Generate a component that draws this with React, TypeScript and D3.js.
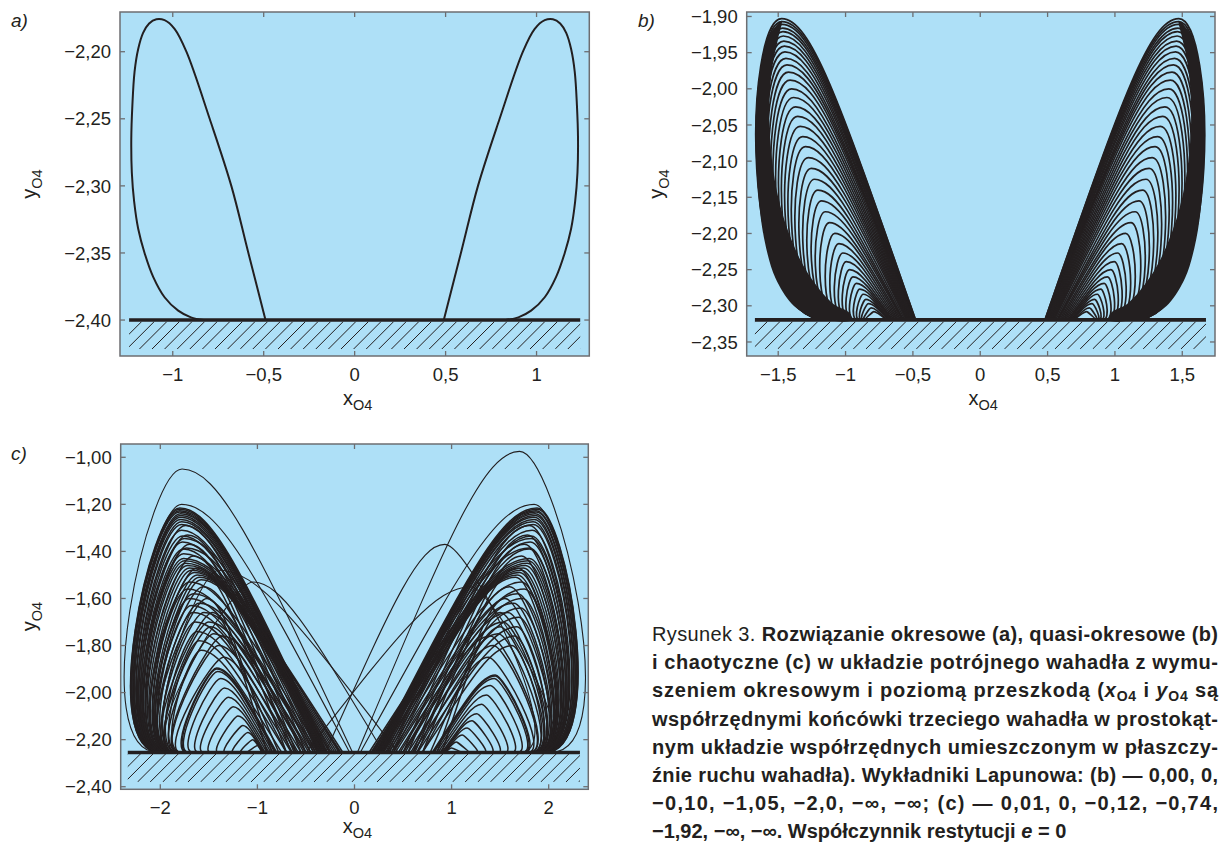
import React from 'react';
import * as d3 from 'd3';

const INK = '#231f20';
const FRAME = '#6d6e71';
const BG = '#aee0f7';
const FONT = "'Liberation Sans', Arial, Helvetica, sans-serif";

// ---------- Panel a: periodic solution ----------
const aXTicks = [-1, -0.5, 0, 0.5, 1];
const aXLabels = ['−1', '−0,5', '0', '0,5', '1'];
const aYTicks = [-2.2, -2.25, -2.3, -2.35, -2.4];
const aYLabels = ['−2,20', '−2,25', '−2,30', '−2,35', '−2,40'];
const aLoopLeft: [number, number][] = [
  [-0.49, -2.4], [-0.588, -2.348], [-0.678, -2.3], [-0.797, -2.25], [-0.925, -2.2],
  [-0.99, -2.183], [-1.045, -2.1765], [-1.09, -2.1758], [-1.13, -2.179], [-1.163, -2.186],
  [-1.19, -2.198], [-1.21, -2.215], [-1.222, -2.24], [-1.228, -2.265], [-1.225, -2.29],
  [-1.212, -2.312], [-1.19, -2.332], [-1.155, -2.35], [-1.107, -2.368], [-1.045, -2.383],
  [-0.97, -2.393], [-0.9, -2.398], [-0.83, -2.4],
];
const aLoopRight: [number, number][] = [
  [0.49, -2.4], [0.588, -2.348], [0.678, -2.3], [0.797, -2.25], [0.925, -2.2],
  [0.99, -2.183], [1.045, -2.1765], [1.09, -2.1758], [1.13, -2.179], [1.163, -2.186],
  [1.19, -2.198], [1.21, -2.215], [1.222, -2.24], [1.228, -2.265], [1.225, -2.29],
  [1.212, -2.312], [1.19, -2.332], [1.155, -2.35], [1.107, -2.368], [1.045, -2.383],
  [0.97, -2.393], [0.9, -2.398], [0.83, -2.4],
];

// ---------- Panel b: quasi-periodic solution ----------
const bXTicks = [-1.5, -1, -0.5, 0, 0.5, 1, 1.5];
const bXLabels = ['−1,5', '−1', '−0,5', '0', '0,5', '1', '1,5'];
const bYTicks = [-1.9, -1.95, -2.0, -2.05, -2.1, -2.15, -2.2, -2.25, -2.3, -2.35];
const bYLabels = ['−1,90', '−1,95', '−2,00', '−2,05', '−2,10', '−2,15', '−2,20', '−2,25', '−2,30', '−2,35'];
// arcs of one lobe (|x| from centre): [apex |x|, apex y, inner foot |x|, outer foot |x|]
const bLobeArcs: [number, number, number, number][] = [
  [1.474, -1.903, 0.48, 1.14], [1.472, -1.907, 0.48, 1.14], [1.47, -1.911, 0.485, 1.14],
  [1.468, -1.916, 0.485, 1.14], [1.465, -1.921, 0.49, 1.135], [1.462, -1.927, 0.49, 1.135],
  [1.458, -1.934, 0.49, 1.13], [1.454, -1.941, 0.495, 1.13], [1.45, -1.949, 0.495, 1.13],
  [1.443, -1.958, 0.5, 1.125], [1.435, -1.967, 0.5, 1.125], [1.424, -1.977, 0.5, 1.12],
  [1.412, -1.988, 0.505, 1.12], [1.4, -2.0, 0.51, 1.12], [1.386, -2.012, 0.515, 1.115],
  [1.371, -2.025, 0.52, 1.11], [1.355, -2.038, 0.525, 1.105], [1.337, -2.052, 0.53, 1.1],
  [1.318, -2.066, 0.535, 1.095], [1.298, -2.08, 0.54, 1.09], [1.277, -2.095, 0.545, 1.085],
  [1.254, -2.11, 0.55, 1.075], [1.23, -2.125, 0.56, 1.07], [1.205, -2.14, 0.57, 1.06],
  [1.178, -2.155, 0.575, 1.05], [1.15, -2.17, 0.58, 1.045], [1.12, -2.185, 0.59, 1.035],
  [1.08, -2.2, 0.6, 1.02], [1.05, -2.214, 0.61, 1.005], [1.02, -2.227, 0.62, 0.99],
  [0.995, -2.239, 0.63, 0.975], [0.97, -2.25, 0.64, 0.96], [0.945, -2.26, 0.65, 0.945],
  [0.92, -2.269, 0.655, 0.93], [0.895, -2.277, 0.66, 0.91], [0.87, -2.284, 0.67, 0.895],
  [0.85, -2.291, 0.675, 0.88], [0.83, -2.297, 0.68, 0.87], [0.81, -2.303, 0.69, 0.86],
  [0.79, -2.308, 0.695, 0.85],
];
// solid black outer band of one lobe (|x|, y)
const bLobeBand: [number, number][] = [
  [1.474, -1.906], [1.56, -1.925], [1.63, -1.97], [1.665, -2.03], [1.66, -2.1],
  [1.635, -2.17], [1.59, -2.22], [1.52, -2.262], [1.4, -2.297], [1.25, -2.316],
  [1.14, -2.32], [0.96, -2.32], [0.97, -2.31], [1.1, -2.296], [1.29, -2.252],
  [1.42, -2.2], [1.5, -2.15], [1.545, -2.1], [1.565, -2.05], [1.56, -2.0],
  [1.535, -1.96], [1.5, -1.93],
];

// ---------- Panel c: chaotic solution ----------
const cXTicks = [-2, -1, 0, 1, 2];
const cXLabels = ['−2', '−1', '0', '1', '2'];
const cYTicks = [-1.0, -1.2, -1.4, -1.6, -1.8, -2.0, -2.2, -2.4];
const cYLabels = ['−1,00', '−1,20', '−1,40', '−1,60', '−1,80', '−2,00', '−2,20', '−2,40'];
// [apex x, apex y, inner foot x, outer foot x]
const cLeftArcs: [number, number, number, number][] = [
  [-1.8, -1.215, -0.28, -2.0], [-1.8, -1.221, -0.29, -2.0], [-1.8, -1.227, -0.3, -1.99],
  [-1.8, -1.233, -0.31, -1.99], [-1.79, -1.24, -0.32, -1.98], [-1.79, -1.247, -0.33, -1.98],
  [-1.79, -1.255, -0.34, -1.97], [-1.79, -1.264, -0.35, -1.97], [-1.78, -1.274, -0.36, -1.96],
  [-1.78, -1.286, -0.37, -1.96], [-1.78, -1.31, -0.38, -1.95], [-1.77, -1.335, -0.4, -1.95],
  [-1.77, -1.36, -0.42, -1.94], [-1.76, -1.39, -0.45, -1.94], [-1.76, -1.41, -0.15, -1.93],
  [-1.76, -1.43, -0.12, -1.93], [-1.75, -1.44, -0.14, -1.92], [-1.74, -1.45, -0.16, -1.92],
  [-1.72, -1.46, -0.18, -1.91], [-1.7, -1.47, -0.2, -1.9], [-1.68, -1.48, -0.22, -1.89],
  [-1.65, -1.49, -0.25, -1.88], [-1.62, -1.5, -0.28, -1.87], [-1.6, -1.51, -0.3, -1.86],
  [-1.58, -1.52, -0.33, -1.85], [-1.72, -1.56, -0.4, -1.88], [-1.7, -1.6, -0.45, -1.87],
  [-1.68, -1.63, -0.5, -1.86], [-1.66, -1.66, -0.55, -1.85], [-1.64, -1.7, -0.6, -1.84],
  [-1.62, -1.74, -0.65, -1.82], [-1.6, -1.78, -0.7, -1.8], [-1.58, -1.82, -0.75, -1.78],
  [-1.42, -1.895, -0.8, -1.72], [-1.42, -1.9, -0.81, -1.71], [-1.41, -1.91, -0.82, -1.7],
  [-1.38, -1.94, -0.84, -1.66], [-1.34, -1.98, -0.86, -1.6], [-1.3, -2.02, -0.88, -1.55],
  [-1.25, -2.06, -0.9, -1.48], [-1.2, -2.1, -0.92, -1.4], [-1.15, -2.14, -0.93, -1.33],
  [-1.1, -2.17, -0.94, -1.25], [-1.05, -2.2, -0.95, -1.17], [-1.0, -2.225, -0.95, -1.1],
  [-1.74, -1.29, -0.5, -1.96], [-1.72, -1.33, -0.55, -1.95], [-1.7, -1.37, -0.6, -1.94],
  [-1.66, -1.42, -0.65, -1.93], [-1.62, -1.47, -0.7, -1.91], [-1.7, -1.53, -0.35, -1.92],
  [-1.66, -1.58, -0.38, -1.9], [-1.6, -1.62, -0.42, -1.88], [-1.55, -1.66, -0.47, -1.86],
  [-1.5, -1.7, -0.52, -1.84], [-1.45, -1.75, -0.58, -1.82], [-1.4, -1.8, -0.64, -1.8],
  [-1.35, -1.85, -0.7, -1.78], [-1.52, -1.6, -0.85, -1.9], [-1.46, -1.66, -0.9, -1.88],
  [-1.75, -1.345, -0.26, -1.97], [-1.73, -1.385, -0.24, -1.96],
  [-1.56, -1.55, -0.62, -1.9], [-1.48, -1.72, -0.78, -1.86], [-1.36, -1.76, -0.5, -1.8],
];
const cRightArcs: [number, number, number, number][] = [
  [1.88, -1.215, 0.22, 1.96], [1.88, -1.221, 0.23, 1.96], [1.87, -1.227, 0.24, 1.95],
  [1.87, -1.233, 0.25, 1.95], [1.86, -1.24, 0.26, 1.94], [1.86, -1.247, 0.27, 1.94],
  [1.85, -1.255, 0.28, 1.93], [1.85, -1.264, 0.29, 1.93], [1.84, -1.274, 0.3, 1.92],
  [1.84, -1.286, 0.32, 1.92], [1.83, -1.31, 0.34, 1.91], [1.82, -1.335, 0.36, 1.91],
  [1.81, -1.36, 0.38, 1.9], [1.8, -1.39, 0.4, 1.9], [1.8, -1.43, 0.15, 1.89],
  [1.79, -1.44, 0.17, 1.89], [1.78, -1.45, 0.19, 1.88], [1.76, -1.46, 0.21, 1.88],
  [1.74, -1.47, 0.23, 1.87], [1.72, -1.48, 0.25, 1.87], [1.7, -1.49, 0.28, 1.86],
  [1.68, -1.5, 0.3, 1.86], [1.66, -1.51, 0.33, 1.85], [1.75, -1.56, 0.4, 1.88],
  [1.73, -1.6, 0.45, 1.87], [1.71, -1.64, 0.5, 1.86], [1.69, -1.68, 0.55, 1.85],
  [1.67, -1.72, 0.6, 1.84], [1.65, -1.76, 0.65, 1.83], [1.62, -1.8, 0.7, 1.82],
  [1.45, -1.925, 0.8, 1.75], [1.45, -1.93, 0.81, 1.74], [1.44, -1.94, 0.82, 1.73],
  [1.4, -1.97, 0.84, 1.68], [1.36, -2.01, 0.86, 1.62], [1.31, -2.05, 0.88, 1.55],
  [1.26, -2.09, 0.9, 1.48], [1.21, -2.12, 0.91, 1.41], [1.16, -2.15, 0.92, 1.34],
  [1.11, -2.18, 0.93, 1.26], [1.05, -2.21, 0.93, 1.17], [1.0, -2.235, 0.93, 1.1],
  [1.8, -1.29, 0.5, 1.9], [1.78, -1.33, 0.55, 1.9], [1.75, -1.37, 0.6, 1.89],
  [1.72, -1.42, 0.65, 1.88], [1.68, -1.47, 0.7, 1.87], [1.72, -1.53, 0.35, 1.88],
  [1.68, -1.58, 0.38, 1.87], [1.64, -1.62, 0.42, 1.86], [1.58, -1.66, 0.47, 1.85],
  [1.53, -1.7, 0.52, 1.84], [1.48, -1.75, 0.58, 1.82], [1.43, -1.8, 0.64, 1.8],
  [1.38, -1.85, 0.7, 1.78], [1.55, -1.6, 0.85, 1.88], [1.5, -1.66, 0.9, 1.86],
  [1.82, -1.345, 0.2, 1.91], [1.8, -1.385, 0.18, 1.9],
  [1.6, -1.55, 0.62, 1.88], [1.5, -1.72, 0.78, 1.84], [1.4, -1.76, 0.5, 1.8],
];
const cThinArcs: [number, number, number, number][] = [
  [-1.776, -1.05, -0.02, -2.02], [1.7, -0.975, 0.03, 2.02],
  [-1.4, -1.48, 0.45, -1.8], [-1.05, -1.53, 0.3, -1.85],
  [0.93, -1.37, -0.3, 1.7], [1.2, -1.55, -0.5, 1.95],
  [-1.78, -1.2, -0.05, -1.98], [1.85, -1.2, 0.06, 1.95],
];

// ---------- caption ----------
type Seg = { t: string; b?: boolean; i?: boolean; sub?: boolean };
const captionLines: Seg[][] = [
  [{ t: 'Rysunek 3. ' }, { t: 'Rozwiązanie okresowe (a), quasi-okresowe (b)', b: true }],
  [{ t: 'i chaotyczne (c) w układzie potrójnego wahadła z wymu-', b: true }],
  [{ t: 'szeniem okresowym i poziomą przeszkodą (', b: true }, { t: 'x', b: true, i: true },
   { t: 'O4', b: true, sub: true }, { t: ' i ', b: true }, { t: 'y', b: true, i: true },
   { t: 'O4', b: true, sub: true }, { t: ' są', b: true }],
  [{ t: 'współrzędnymi końcówki trzeciego wahadła w prostokąt-', b: true }],
  [{ t: 'nym układzie współrzędnych umieszczonym w płaszczy-', b: true }],
  [{ t: 'źnie ruchu wahadła). Wykładniki Lapunowa: (b) — 0,00, 0,', b: true }],
  [{ t: '−0,10, −1,05, −2,0, −∞, −∞; (c) — 0,01, 0, −0,12, −0,74,', b: true }],
  [{ t: '−1,92, −∞, −∞. Współczynnik restytucji ', b: true }, { t: 'e', b: true, i: true }, { t: ' = 0', b: true }],
];

type Cfg = {
  id: string; label: string; px: [number, number]; py: [number, number];
  dx: [number, number]; dy: [number, number]; floor: number; floorX: [number, number];
  hatchBottom: number; xTicks: number[]; xLabels: string[]; yTicks: number[]; yLabels: string[];
  labelPos: [number, number]; yLabelX: number; xLabelY: number;
};

const panels: Cfg[] = [
  { id: 'a', label: 'a)', px: [120, 589.3], py: [12, 356], dx: [-1.29, 1.29], dy: [-2.4268, -2.1704],
    floor: -2.4, floorX: [-1.24, 1.24], hatchBottom: -2.4216, xTicks: aXTicks, xLabels: aXLabels,
    yTicks: aYTicks, yLabels: aYLabels, labelPos: [11, 27], yLabelX: 36, xLabelY: 405 },
  { id: 'b', label: 'b)', px: [746.7, 1215], py: [12, 356], dx: [-1.734, 1.743], dy: [-2.3694, -1.8938],
    floor: -2.3195, floorX: [-1.673, 1.676], hatchBottom: -2.3596, xTicks: bXTicks, xLabels: bXLabels,
    yTicks: bYTicks, yLabels: bYLabels, labelPos: [638, 27], yLabelX: 663, xLabelY: 405 },
  { id: 'c', label: 'c)', px: [120.7, 588.3], py: [444, 789.3], dx: [-2.408, 2.408], dy: [-2.411, -0.9435],
    floor: -2.2545, floorX: [-2.335, 2.322], hatchBottom: -2.3805, xTicks: cXTicks, xLabels: cXLabels,
    yTicks: cYTicks, yLabels: cYLabels, labelPos: [11, 460], yLabelX: 36, xLabelY: 833 },
];

function arcPath(xs: any, ys: any, row: number[], floorY: number, alpha = 0.12, beta = 0.3, p = 0.55) {
  const [ax, ay, fr, fl] = row;
  const dir = ax < 0 ? -1 : 1;
  const X0 = xs(fr), Y0 = ys(floorY), X3 = xs(ax), Y3 = ys(ay), X6 = xs(fl);
  const H = Y0 - Y3;
  const X1 = X0 + (X3 - X0) * p, Y1 = Y0 - 0.7 * H;
  const X2 = X3 + (X1 - X3) * 0.5;
  const path = d3.path();
  path.moveTo(X0, Y0);
  path.bezierCurveTo(X1, Y1, X2, Y3, X3, Y3);
  path.bezierCurveTo(X3 + dir * alpha * H, Y3, X6 + dir * beta * H, Y0, X6, Y0);
  return path.toString();
}

function Panel({ cfg }: { cfg: Cfg }) {
  const xs = d3.scaleLinear().domain(cfg.dx).range(cfg.px);
  const ys = d3.scaleLinear().domain(cfg.dy).range([cfg.py[1], cfg.py[0]]);
  const [x0, x1] = cfg.px;
  const [y0, y1] = cfg.py;
  const clipId = 'clip-' + cfg.id;
  const hatchId = 'hatch-' + cfg.id;
  const fy = ys(cfg.floor);
  const hx0 = xs(cfg.floorX[0]), hx1 = xs(cfg.floorX[1]);
  const hTop = fy + 1.5, hBot = ys(cfg.hatchBottom);
  const hh = hBot - hTop;
  const hatchLines: number[] = [];
  for (let x = hx0 - hh; x < hx1 + 2; x += 12.6) hatchLines.push(x);
  const line = d3.line<[number, number]>().x(d => xs(d[0])).y(d => ys(d[1])).curve(d3.curveCatmullRom.alpha(0.5));
  const closed = d3.line<[number, number]>().x(d => xs(d[0])).y(d => ys(d[1])).curve(d3.curveCatmullRomClosed.alpha(0.5));

  let curves: React.ReactNode = null;
  if (cfg.id === 'a') {
    curves = [aLoopLeft, aLoopRight].map((pts, i) => (
      <path key={i} d={line(pts) || ''} fill="none" stroke={INK} strokeWidth={2} />
    ));
  } else if (cfg.id === 'b') {
    const rows: number[][] = [];
    bLobeArcs.forEach(r => rows.push([-r[0], r[1], -r[2], -r[3]]));
    bLobeArcs.forEach(r => rows.push([r[0], r[1], r[2], r[3]]));
    const bandL = bLobeBand.map(d => [-d[0], d[1]] as [number, number]);
    const bandR = bLobeBand.map(d => [d[0], d[1]] as [number, number]);
    curves = (
      <g>
        {rows.map((r, i) => (
          <path key={i} d={arcPath(xs, ys, r, cfg.floor)} fill="none" stroke={INK} strokeWidth={1.7} />
        ))}
        <path d={closed(bandL) || ''} fill={INK} />
        <path d={closed(bandR) || ''} fill={INK} />
      </g>
    );
  } else {
    curves = (
      <g>
        {[...cLeftArcs, ...cRightArcs].map((r, i) => (
          <path key={'m' + i} d={arcPath(xs, ys, r, cfg.floor, 0.12, 0.26)} fill="none" stroke={INK} strokeWidth={1.5} />
        ))}
        {cThinArcs.map((r, i) => (
          <path key={'t' + i} d={arcPath(xs, ys, r, cfg.floor, 0.12, 0.26)} fill="none" stroke={INK} strokeWidth={1.1} />
        ))}
      </g>
    );
  }

  const xc = xs(0);
  return (
    <g>
      <defs>
        <clipPath id={clipId}><rect x={x0} y={y0} width={x1 - x0} height={y1 - y0} /></clipPath>
        <clipPath id={hatchId}><rect x={hx0} y={hTop} width={hx1 - hx0} height={hh} /></clipPath>
      </defs>
      <rect x={x0} y={y0} width={x1 - x0} height={y1 - y0} fill={BG} />
      <g clipPath={`url(#${clipId})`}>{curves}</g>
      <g clipPath={`url(#${hatchId})`}>
        {hatchLines.map((x, i) => (
          <line key={i} x1={x} y1={hBot} x2={x + hh} y2={hTop} stroke={INK} strokeWidth={1} />
        ))}
      </g>
      <line x1={hx0} x2={hx1} y1={fy} y2={fy} stroke={INK} strokeWidth={3.6} />
      <rect x={x0} y={y0} width={x1 - x0} height={y1 - y0} fill="none" stroke={FRAME} strokeWidth={1.5} />
      {cfg.xTicks.map((t, i) => (
        <g key={'xt' + i}>
          <line x1={xs(t)} x2={xs(t)} y1={y1} y2={y1 - 5} stroke={FRAME} strokeWidth={1.3} />
          <line x1={xs(t)} x2={xs(t)} y1={y0} y2={y0 + 5} stroke={FRAME} strokeWidth={1.3} />
          <text x={xs(t)} y={y1 + 25} textAnchor="middle" fontSize={18.5} fill={INK} fontFamily={FONT}>{cfg.xLabels[i]}</text>
        </g>
      ))}
      {cfg.yTicks.map((t, i) => (
        <g key={'yt' + i}>
          <line x1={x0} x2={x0 + 5} y1={ys(t)} y2={ys(t)} stroke={FRAME} strokeWidth={1.3} />
          <line x1={x1} x2={x1 - 5} y1={ys(t)} y2={ys(t)} stroke={FRAME} strokeWidth={1.3} />
          <text x={x0 - 9} y={ys(t)} dy="0.36em" textAnchor="end" fontSize={18.5} fill={INK} fontFamily={FONT}>{cfg.yLabels[i]}</text>
        </g>
      ))}
      <text x={xc + 3} y={cfg.xLabelY} textAnchor="middle" fontSize={20} fill={INK} fontFamily={FONT}>
        x<tspan fontSize={14.5} dy={5}>O4</tspan>
      </text>
      <text transform={`translate(${cfg.yLabelX},${(y0 + y1) / 2}) rotate(-90)`} textAnchor="middle" fontSize={20} fill={INK} fontFamily={FONT}>
        y<tspan fontSize={14.5} dy={6}>O4</tspan>
      </text>
      <text x={cfg.labelPos[0]} y={cfg.labelPos[1]} fontSize={19} fontStyle="italic" fill={INK} fontFamily={FONT}>{cfg.label}</text>
    </g>
  );
}

function Caption() {
  const x = 652, width = 566, top = 641, lh = 28.2;
  return (
    <g fontFamily={FONT} fontSize={20} fill={INK}>
      {captionLines.map((segs, li) => {
        const justify = li < captionLines.length - 1;
        const nodes: React.ReactNode[] = [];
        let subActive = false;
        segs.forEach((s, si) => {
          let dy: number | undefined = undefined;
          if (s.sub && !subActive) { dy = 4; subActive = true; }
          else if (!s.sub && subActive) { dy = -4; subActive = false; }
          nodes.push(
            <tspan key={si} dy={dy} fontWeight={s.b ? 'bold' : 'normal'} fontStyle={s.i ? 'italic' : 'normal'}
              fontSize={s.sub ? 14 : 20}>{s.t}</tspan>
          );
        });
        return (
          <text key={li} x={x} y={top + li * lh} {...(justify ? { textLength: width, lengthAdjust: 'spacing' } : {})}>
            {nodes}
          </text>
        );
      })}
    </g>
  );
}

export default function App() {
  return (
    <svg width={1220} height={844} viewBox="0 0 1220 844"
      style={{ position: 'absolute', left: 0, top: 0, background: '#fff' }}>
      <rect width={1220} height={844} fill="#fff" />
      {panels.map(p => <Panel key={p.id} cfg={p} />)}
      <Caption />
    </svg>
  );
}
